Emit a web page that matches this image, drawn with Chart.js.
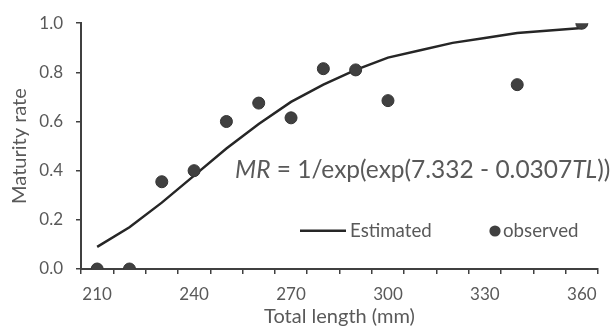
<!DOCTYPE html>
<html>
<head>
<meta charset="utf-8">
<script src="https://cdn.jsdelivr.net/npm/chart.js@4"></script>
<style>
  html, body { margin: 0; padding: 0; background: #fff; }
  #wrap { width: 616px; height: 331px; }
</style>
</head>
<body>
<div id="wrap"><canvas id="maturityChart" width="616" height="331"></canvas></div>
<script>
// Trục X: chiều dài tổng (mm), mỗi 10 mm một nhóm
const lengths = ['210', '220', '230', '240', '250', '260', '270', '280',
                 '290', '300', '310', '320', '330', '340', '350', '360'];

// Đường ước lượng
const estimated = [0.09, 0.17, 0.27, 0.38, 0.49, 0.59, 0.68, 0.75,
                   0.81, 0.86, 0.89, 0.92, 0.94, 0.96, 0.97, 0.98];

// Điểm quan sát (null = không có điểm)
const observed = [0, 0, 0.355, 0.40, 0.60, 0.675, 0.615, 0.815,
                  0.81, 0.685, null, null, null, 0.75, null, 1.0];

const yTicks = [0, 0.2, 0.4, 0.6, 0.8, 1.0];

const textColor = '#595959';
const axisColor = '#404040';
const font = 'Lato, "Open Sans", sans-serif';

// Plugin vẽ phương trình và chú thích bên trong vùng biểu đồ
const overlay = {
    id: 'overlay',
    afterDraw(chart) {
        const ctx = chart.ctx;
        ctx.save();
        ctx.fillStyle = textColor;
        ctx.textBaseline = 'alphabetic';

        // Phương trình
        const parts = [
            ['MR', true], [' = 1/exp(exp(7.332 - 0.0307', false], ['TL', true], ['))', false]
        ];
        let x = 235;
        parts.forEach(([txt, italic]) => {
            ctx.font = (italic ? 'italic ' : '') + '24.5px ' + font;
            ctx.fillText(txt, x, 178);
            x += ctx.measureText(txt).width;
        });

        // Chú thích
        ctx.font = '18.7px ' + font;
        ctx.strokeStyle = '#262626';
        ctx.lineWidth = 2.5;
        ctx.beginPath();
        ctx.moveTo(300, 230.7);
        ctx.lineTo(346, 230.7);
        ctx.stroke();
        ctx.fillText('Estimated', 350, 237);

        ctx.fillStyle = '#404040';
        ctx.beginPath();
        ctx.arc(495, 231, 5.6, 0, Math.PI * 2);
        ctx.fill();
        ctx.fillStyle = textColor;
        ctx.fillText('observed', 503, 237);
        ctx.restore();
    }
};

const ctx = document.getElementById('maturityChart').getContext('2d');
new Chart(ctx, {
    type: 'line',
    data: {
        labels: lengths,
        datasets: [
            {
                label: 'Estimated',
                data: estimated,
                borderColor: '#262626',
                borderWidth: 2.5,
                pointRadius: 0,
                tension: 0,
                fill: false,
                order: 2
            },
            {
                label: 'observed',
                data: observed,
                showLine: false,
                pointRadius: 6,
                pointBackgroundColor: '#404040',
                pointBorderColor: '#333333',
                pointBorderWidth: 1,
                order: 1
            }
        ]
    },
    options: {
        responsive: false,
        animation: false,
        layout: { padding: { left: 0, right: 18, top: 23, bottom: 0 } },
        plugins: {
            legend: { display: false },
            tooltip: { enabled: false }
        },
        scales: {
            x: {
                type: 'category',
                offset: true,
                grid: {
                    offset: true,
                    drawOnChartArea: false,
                    drawTicks: true,
                    tickLength: 5,
                    color: axisColor,
                    lineWidth: 1.5
                },
                border: { display: true, color: axisColor, width: 2 },
                ticks: {
                    autoSkip: false,
                    maxRotation: 0,
                    color: textColor,
                    padding: 10,
                    font: { family: font, size: 17 },
                    callback: (v, i) => (i % 3 === 0 ? lengths[i] : '')
                },
                title: {
                    display: true,
                    text: 'Total length (mm)',
                    color: textColor,
                    font: { family: font, size: 20 },
                    padding: { top: 0, bottom: 2.5 }
                },
                afterFit: s => { s.height = 62; }
            },
            y: {
                min: 0,
                max: 1,
                afterBuildTicks: s => { s.ticks = yTicks.map(v => ({ value: v })); },
                grid: {
                    drawOnChartArea: false,
                    drawTicks: true,
                    tickLength: 5,
                    color: axisColor,
                    lineWidth: 1.5
                },
                border: { display: true, color: axisColor, width: 2 },
                ticks: {
                    color: textColor,
                    padding: 13,
                    font: { family: font, size: 17 },
                    callback: v => Number(v).toFixed(1)
                },
                title: {
                    display: true,
                    text: 'Maturity rate',
                    color: textColor,
                    font: { family: font, size: 20 },
                    padding: { top: 8, bottom: 0 }
                },
                afterFit: s => { s.width = 81; }
            }
        }
    },
    plugins: [overlay]
});
</script>
</body>
</html>
